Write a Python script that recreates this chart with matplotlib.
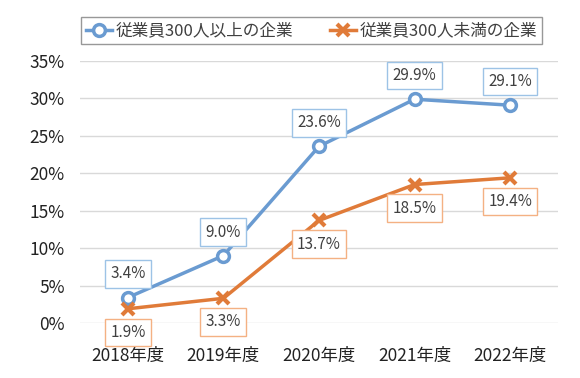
import matplotlib
matplotlib.use('Agg')
import matplotlib.pyplot as plt
from matplotlib.ticker import FuncFormatter

plt.rcParams['font.family'] = ['Noto Sans CJK JP', 'DejaVu Sans']

years = ['2018年度', '2019年度', '2020年度', '2021年度', '2022年度']
large = [3.4, 9.0, 23.6, 29.9, 29.1]
small = [1.9, 3.3, 13.7, 18.5, 19.4]
names = ['従業員300人以上の企業', '従業員300人未満の企業']

blue = '#6A9BD1'
orange = '#E07B39'
txt = '#404040'

fig = plt.figure(figsize=(5.8, 3.78), dpi=100)
ax = fig.add_axes([0.138, 0.1455, 0.824, 0.693])

x = list(range(len(years)))
ax.plot(x, large, color=blue, lw=2.5, marker='o', ms=8.5, mfc='white',
        mec=blue, mew=2.5, label=names[0], zorder=3)
ax.plot(x, small, color=orange, lw=2.5, marker='x', ms=8, mew=3,
        label=names[1], zorder=3)

# データラベル
for i, v in enumerate(large):
    ax.annotate('%.1f%%' % v, (i, v), xytext=(0, 17), textcoords='offset points',
                ha='center', va='center', fontsize=11, color=txt,
                bbox=dict(boxstyle='square,pad=0.35', fc='white', ec='#9DC3E6', lw=1),
                zorder=4)
for i, v in enumerate(small):
    ax.annotate('%.1f%%' % v, (i, v), xytext=(0, -17), textcoords='offset points',
                ha='center', va='center', fontsize=11, color=txt,
                bbox=dict(boxstyle='square,pad=0.35', fc='white', ec='#F4B183', lw=1),
                zorder=4)

ax.set_xlim(-0.5, len(years) - 0.5)
ax.set_ylim(0, 35)
ax.set_yticks(range(0, 36, 5))
ax.yaxis.set_major_formatter(FuncFormatter(lambda v, p: '%d%%' % v))
ax.set_xticks(x)
ax.set_xticklabels(years)
ax.tick_params(length=0, labelsize=12.5, colors='#222222')
ax.tick_params(axis='y', pad=11)
ax.tick_params(axis='x', pad=17)
ax.grid(axis='y', color='#d9d9d9', lw=1)
ax.set_axisbelow(True)
for s in ax.spines.values():
    s.set_visible(False)

leg = fig.legend(loc='center', bbox_to_anchor=(0.537, 0.918), ncol=2,
                 fontsize=12, frameon=True, fancybox=False, edgecolor='#7f7f7f',
                 handlelength=1.6, handletextpad=0.2, columnspacing=2.2,
                 borderpad=0.3)
leg.get_frame().set_linewidth(1)
for t in leg.get_texts():
    t.set_color(txt)

fig.savefig('out.png', dpi=100)
